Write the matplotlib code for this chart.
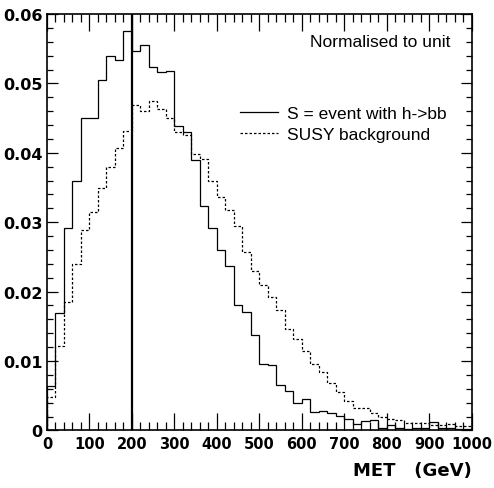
import numpy as np
import matplotlib
matplotlib.use("Agg")
import matplotlib.pyplot as plt
from matplotlib.ticker import MultipleLocator

# bin edges of the MET histogram (20 GeV bins)
bin_edges = np.arange(0, 1001, 20)

# signal: events with h->bb
signal = [0.0064, 0.0169, 0.0291, 0.0360, 0.0450, 0.0450, 0.0505, 0.0539, 0.0534, 0.0575,
          0.0546, 0.0556, 0.0524, 0.0517, 0.0518, 0.0438, 0.0430, 0.0390, 0.0323, 0.0291,
          0.0260, 0.0237, 0.0180, 0.0170, 0.0138, 0.0095, 0.0094, 0.0065, 0.0057, 0.0039,
          0.0045, 0.0026, 0.0028, 0.0025, 0.0021, 0.0017, 0.0009, 0.0013, 0.0015, 0.0004,
          0.0008, 0.0003, 0.0002, 0.0003, 0.0004, 0.0012, 0.0003, 0.0003, 0.0002, 0.0002]

# SUSY background
background = [0.0048, 0.0122, 0.0185, 0.0240, 0.0289, 0.0314, 0.0349, 0.0380, 0.0407, 0.0431,
              0.0469, 0.0460, 0.0475, 0.0463, 0.0450, 0.0430, 0.0425, 0.0398, 0.0391, 0.0360,
              0.0337, 0.0318, 0.0294, 0.0257, 0.0230, 0.0210, 0.0192, 0.0173, 0.0146, 0.0132,
              0.0115, 0.0096, 0.0084, 0.0069, 0.0055, 0.0043, 0.0032, 0.0032, 0.0025, 0.0020,
              0.0016, 0.0015, 0.0011, 0.0011, 0.0011, 0.0008, 0.0008, 0.0009, 0.0007, 0.0006]

cut_value = 200
labels = ["S = event with h->bb", "SUSY background"]
y_ticks = [0, 0.01, 0.02, 0.03, 0.04, 0.05, 0.06]
y_ticklabels = ["0", "0.01", "0.02", "0.03", "0.04", "0.05", "0.06"]
x_ticks = list(range(0, 1001, 100))

fig = plt.figure(figsize=(4.94, 4.89), dpi=100)
ax = fig.add_axes([0.095, 0.1178, 0.86, 0.8515])

ax.stairs(signal, bin_edges, color="black", lw=0.9, label=labels[0])
ax.stairs(background, bin_edges, color="black", lw=0.9, linestyle=(0, (2, 1.6)), label=labels[1])
ax.axvline(cut_value, color="black", lw=1.6)

ax.set_xlim(0, 1000)
ax.set_ylim(0, 0.06)

# ticks like ROOT: inside, on all sides
ax.set_xticks(x_ticks)
ax.set_yticks(y_ticks, y_ticklabels)
ax.xaxis.set_minor_locator(MultipleLocator(20))
ax.yaxis.set_minor_locator(MultipleLocator(0.002))
ax.tick_params(axis="x", which="major", direction="in", top=True, length=12, width=0.9, pad=4)
ax.tick_params(axis="x", which="minor", direction="in", top=True, length=6, width=0.9)
ax.tick_params(axis="y", which="major", direction="in", right=True, length=8, width=0.9, pad=3)
ax.tick_params(axis="y", which="minor", direction="in", right=True, length=4, width=0.9)

for lab in ax.get_xticklabels():
    lab.set_fontfamily("DejaVu Sans")
    lab.set_fontweight("bold")
    lab.set_fontsize(10.5)
for lab in ax.get_yticklabels():
    lab.set_fontfamily("DejaVu Sans")
    lab.set_fontweight("bold")
    lab.set_fontsize(11.5)

for sp in ax.spines.values():
    sp.set_linewidth(1.2)

ax.set_xlabel("MET   (GeV)", fontsize=13, fontweight="bold", family="DejaVu Sans", loc="right")
ax.xaxis.set_label_coords(1.0, -0.073)
ax.xaxis.label.set_verticalalignment("top")

ax.text(0.95, 0.935, "Normalised to unit", transform=ax.transAxes, ha="right", va="center",
        fontsize=12.5, family="Liberation Sans")

ax.legend(loc="upper left", bbox_to_anchor=(0.454, 0.78), frameon=False,
          prop={"family": "Liberation Sans", "size": 12.5},
          handlelength=2.2, handletextpad=0.5, labelspacing=0.35,
          borderpad=0, borderaxespad=0)

fig.savefig("out.png", dpi=100)
